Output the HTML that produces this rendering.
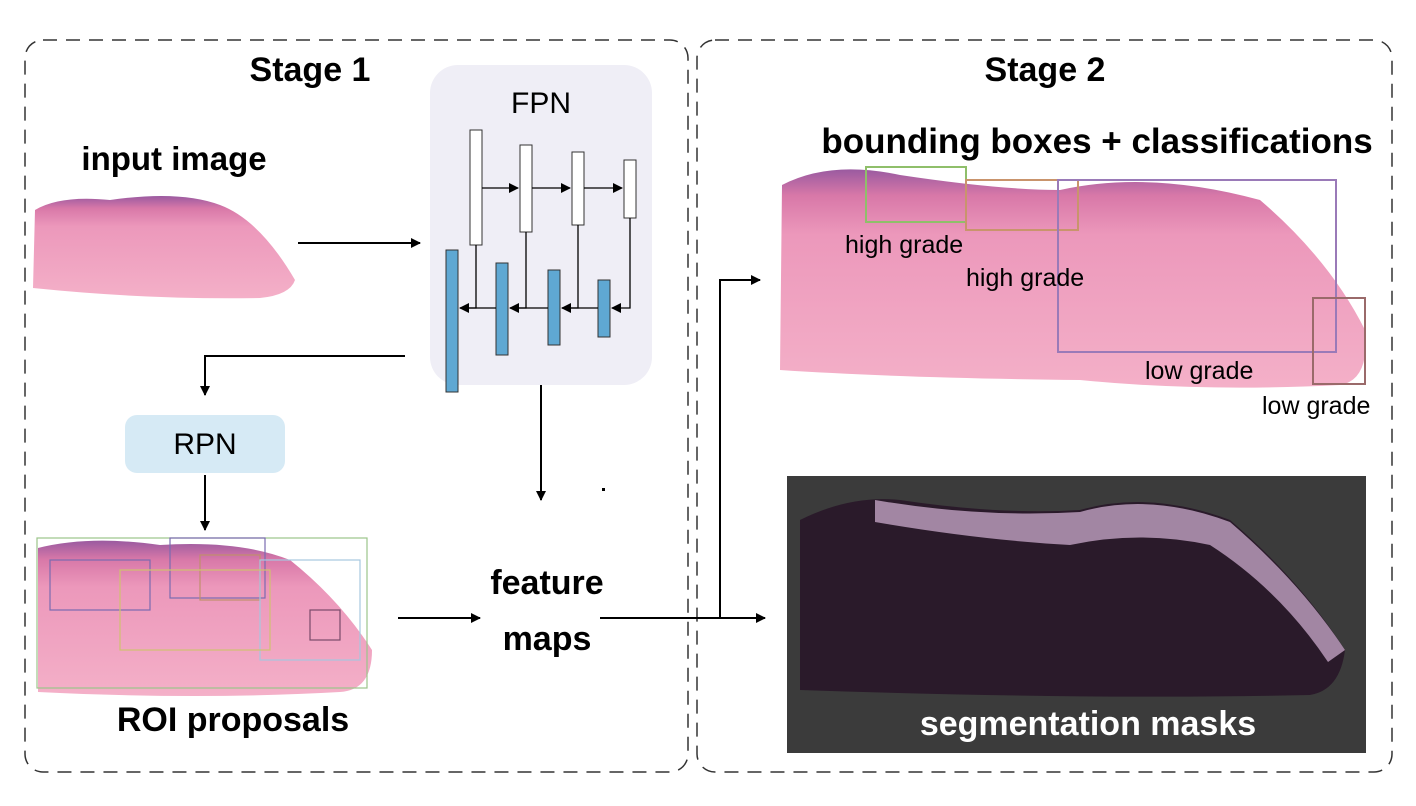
<!DOCTYPE html>
<html><head><meta charset="utf-8"><style>
html,body{margin:0;padding:0;background:#fff;}
svg{display:block;font-family:"Liberation Sans",Arial,sans-serif;}
</style></head><body>
<svg width="1416" height="806" viewBox="0 0 1416 806">
<defs>
<marker id="ah" markerWidth="10" markerHeight="10" refX="9" refY="5" orient="auto" markerUnits="userSpaceOnUse"><path d="M0,0 L10,5 L0,10 z" fill="#000"/></marker>
<linearGradient id="tis" x1="0" y1="0" x2="0" y2="1"><stop offset="0" stop-color="#9a5aa0"/><stop offset="0.12" stop-color="#d878a8"/><stop offset="0.3" stop-color="#ec98bb"/><stop offset="1" stop-color="#f4b0c8"/></linearGradient>
</defs>
<rect x="25" y="40" width="663" height="732" rx="18" fill="none" stroke="#333" stroke-width="1.5" stroke-dasharray="14,9"/>
<rect x="697" y="40" width="695" height="732" rx="18" fill="none" stroke="#333" stroke-width="1.5" stroke-dasharray="14,9"/>
<text x="310" y="81" font-size="34" font-weight="bold" text-anchor="middle">Stage 1</text>
<text x="1045" y="81" font-size="34" font-weight="bold" text-anchor="middle">Stage 2</text>

<text x="174" y="170" font-size="33" font-weight="bold" text-anchor="middle">input image</text>
<path d="M35,210 Q60,195 110,200 Q180,190 220,205 Q260,220 295,280 Q290,295 260,298 Q150,300 33,288 Z" fill="url(#tis)"/>

<g>
<rect x="430" y="65" width="222" height="320" rx="28" fill="#efeef6"/>
<text x="541" y="113" font-size="30" text-anchor="middle">FPN</text>
<g fill="#fff" stroke="#333" stroke-width="1">
<rect x="470" y="130" width="12" height="115"/><rect x="520" y="145" width="12" height="87"/><rect x="572" y="152" width="12" height="73"/><rect x="624" y="160" width="12" height="58"/>
</g>
<g fill="#5fa8d3" stroke="#333" stroke-width="1">
<rect x="446" y="250" width="12" height="142"/><rect x="496" y="263" width="12" height="92"/><rect x="548" y="270" width="12" height="75"/><rect x="598" y="280" width="12" height="57"/>
</g>
<g stroke="#000" stroke-width="1.3" fill="none">
<line x1="482" y1="188" x2="518" y2="188" marker-end="url(#ah)"/>
<line x1="532" y1="188" x2="570" y2="188" marker-end="url(#ah)"/>
<line x1="584" y1="188" x2="622" y2="188" marker-end="url(#ah)"/>
<polyline points="630,218 630,308 612,308" marker-end="url(#ah)"/>
<polyline points="578,225 578,308 562,308"/>
<line x1="598" y1="308" x2="562" y2="308" marker-end="url(#ah)"/>
<polyline points="526,232 526,308 510,308"/>
<line x1="548" y1="308" x2="510" y2="308" marker-end="url(#ah)"/>
<polyline points="476,245 476,308 460,308"/>
<line x1="496" y1="308" x2="460" y2="308" marker-end="url(#ah)"/>
</g>
</g>

<g stroke="#000" stroke-width="2" fill="none">
<line x1="298" y1="243" x2="420" y2="243" marker-end="url(#ah)"/>
<polyline points="405,356 205,356 205,395" marker-end="url(#ah)"/>
<line x1="205" y1="475" x2="205" y2="530" marker-end="url(#ah)"/>
<line x1="541" y1="385" x2="541" y2="500" marker-end="url(#ah)"/>
<line x1="398" y1="618" x2="480" y2="618" marker-end="url(#ah)"/>
<line x1="600" y1="618" x2="765" y2="618" marker-end="url(#ah)"/>
<polyline points="720,618 720,280 760,280" marker-end="url(#ah)"/>
</g>
<rect x="602" y="488" width="3" height="3" fill="#000"/>

<rect x="125" y="415" width="160" height="58" rx="12" fill="#d6eaf5"/>
<text x="205" y="454" font-size="30" text-anchor="middle">RPN</text>

<g>
<path d="M38,548 Q90,535 160,545 Q240,540 290,560 Q340,600 372,650 Q372,690 340,692 Q200,700 38,692 Z" fill="url(#tis)"/>
<g fill="none" stroke-width="1.2">
<rect x="37" y="538" width="330" height="150" stroke="#9bc58a"/>
<rect x="50" y="560" width="100" height="50" stroke="#7a6bb0"/>
<rect x="170" y="538" width="95" height="60" stroke="#7a6bb0"/>
<rect x="200" y="555" width="60" height="45" stroke="#c08f6c"/>
<rect x="260" y="560" width="100" height="100" stroke="#a6c7e0"/>
<rect x="310" y="610" width="30" height="30" stroke="#7a4a6a"/>
<rect x="120" y="570" width="150" height="80" stroke="#d0c070"/>
</g>
</g>
<text x="233" y="731" font-size="34" font-weight="bold" text-anchor="middle">ROI proposals</text>

<text x="547" y="594" font-size="34" font-weight="bold" text-anchor="middle">feature</text>
<text x="547" y="650" font-size="34" font-weight="bold" text-anchor="middle">maps</text>

<text x="1097" y="153" font-size="35" font-weight="bold" text-anchor="middle">bounding boxes + classifications</text>
<g>
<path d="M782,185 Q830,160 900,175 Q1000,190 1060,190 Q1150,170 1260,200 Q1330,260 1365,330 Q1370,380 1340,385 Q1200,392 1080,380 Q900,378 780,370 Z" fill="url(#tis)"/>
<g fill="none" stroke-width="2">
<rect x="866" y="167" width="100" height="55" stroke="#8fbf6a"/>
<rect x="966" y="180" width="112" height="50" stroke="#c9946c"/>
<rect x="1058" y="180" width="278" height="172" stroke="#9a7ab8"/>
<rect x="1313" y="298" width="52" height="86" stroke="#9a6a6a"/>
</g>
<text x="845" y="253" font-size="25">high grade</text>
<text x="966" y="286" font-size="25">high grade</text>
<text x="1145" y="379" font-size="25">low grade</text>
<text x="1262" y="414" font-size="25">low grade</text>
</g>

<g>
<rect x="787" y="476" width="579" height="277" fill="#3b3b3b"/>
<path d="M800,520 Q850,495 900,500 Q1000,515 1080,510 Q1150,490 1230,520 Q1300,580 1345,650 Q1340,690 1310,695 Q1100,700 800,690 Z" fill="#2a1a2a"/>
<path d="M875,500 Q980,518 1080,512 Q1150,492 1230,522 Q1300,582 1345,650 L1328,662 Q1280,590 1210,545 Q1140,530 1070,545 Q980,540 875,522 Z" fill="#b79ab8" opacity="0.85"/>
</g>
<text x="1088" y="735" font-size="34" font-weight="bold" fill="#fff" text-anchor="middle">segmentation masks</text>
</svg>
</body></html>
